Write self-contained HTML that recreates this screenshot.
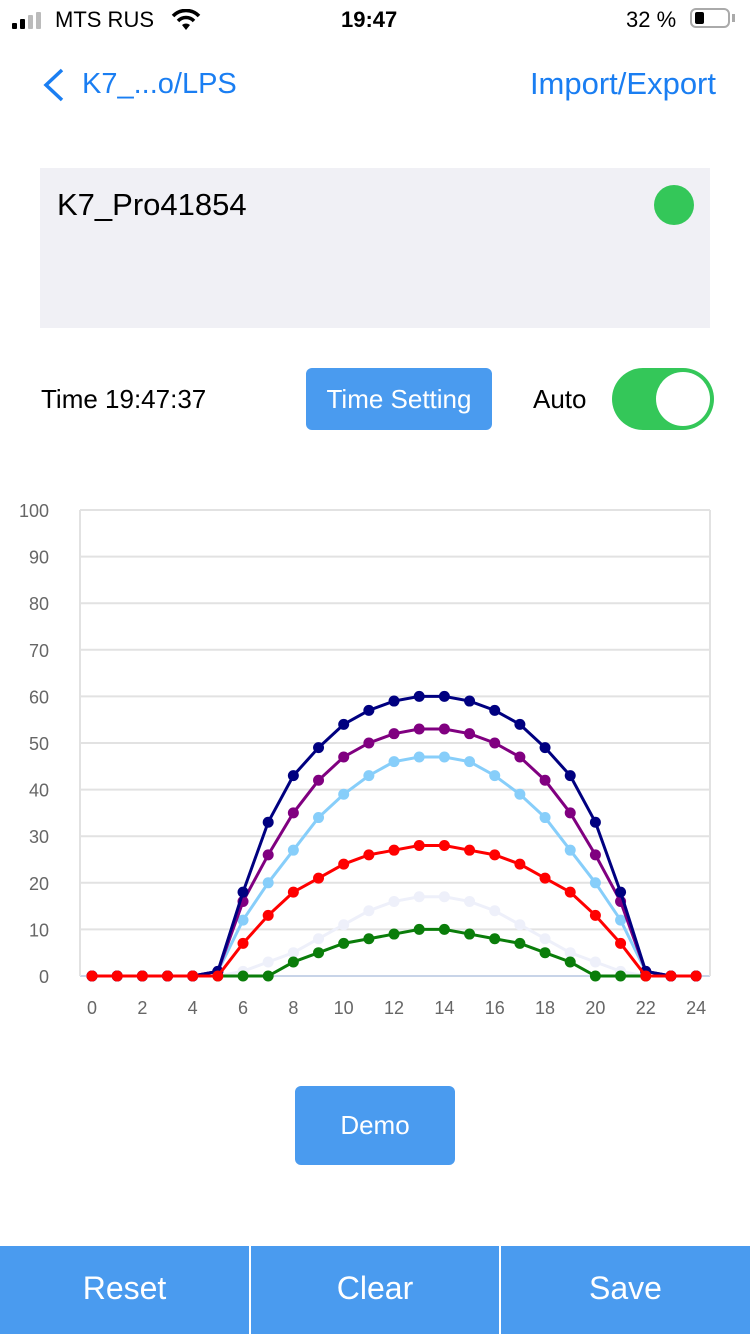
<!DOCTYPE html>
<html><head><meta charset="utf-8"><style>
body{margin:0;width:750px;height:1334px;background:#fff;font-family:"Liberation Sans",sans-serif;position:relative;overflow:hidden}
.a{position:absolute}
.btn{background:#4a9bef;color:#fff;border-radius:6px;display:flex;align-items:center;justify-content:center}
</style></head><body>
<div class="a" style="left:12px;top:12px;width:40px;height:18px">
<div class="a" style="left:0;top:11px;width:5px;height:6px;background:#000;border-radius:1px"></div>
<div class="a" style="left:8px;top:7px;width:5px;height:10px;background:#000;border-radius:1px"></div>
<div class="a" style="left:16px;top:3px;width:5px;height:14px;background:#bbb;border-radius:1px"></div>
<div class="a" style="left:24px;top:0;width:5px;height:17px;background:#bbb;border-radius:1px"></div>
</div>
<div class="a" style="left:55px;top:7px;font-size:22px">MTS RUS</div>
<svg class="a" style="left:171px;top:9px" width="30" height="22" viewBox="0 0 30 22"><path d="M15 21 L19 16 A6 6 0 0 0 11 16Z" fill="#000"/><path d="M7 12 A11 11 0 0 1 23 12" stroke="#000" stroke-width="3.5" fill="none"/><path d="M2 7 A18 18 0 0 1 28 7" stroke="#000" stroke-width="3.5" fill="none"/></svg>
<div class="a" style="left:341px;top:7px;font-size:22px;font-weight:bold">19:47</div>
<div class="a" style="left:626px;top:7px;font-size:22px">32 %</div>
<div class="a" style="left:690px;top:8px;width:40px;height:20px;border:2px solid #aaa;border-radius:6px;box-sizing:border-box"><div class="a" style="left:3px;top:2px;width:9px;height:12px;background:#000;border-radius:2px"></div></div>
<div class="a" style="left:732px;top:14px;width:3px;height:8px;background:#aaa"></div>
<svg class="a" style="left:40px;top:68px" width="26" height="34"><path d="M22 2 L6 17 L22 32" stroke="#1a7ef2" stroke-width="3.5" fill="none"/></svg>
<div class="a" style="left:82px;top:68px;font-size:29px;color:#1a7ef2">K7_...o/LPS</div>
<div class="a" style="right:34px;top:66px;font-size:31px;color:#1a7ef2">Import/Export</div>
<div class="a" style="left:40px;top:168px;width:670px;height:160px;background:#f0f0f5"></div>
<div class="a" style="left:57px;top:187px;font-size:31px">K7_Pro41854</div>
<div class="a" style="left:654px;top:185px;width:40px;height:40px;border-radius:50%;background:#34c759"></div>
<div class="a" style="left:41px;top:384px;font-size:26px">Time 19:47:37</div>
<div class="a btn" style="left:306px;top:368px;width:186px;height:62px;font-size:26px">Time Setting</div>
<div class="a" style="left:533px;top:384px;font-size:26px">Auto</div>
<div class="a" style="left:612px;top:368px;width:102px;height:62px;border-radius:31px;background:#34c759"><div class="a" style="left:44px;top:4px;width:54px;height:54px;border-radius:50%;background:#fff"></div></div>
<svg class="a" style="left:0;top:490px" width="750" height="540" id="ch"></svg>
<div class="a btn" style="left:295px;top:1086px;width:160px;height:79px;font-size:26px">Demo</div>
<div class="a" style="left:0;top:1246px;width:750px;height:88px;background:#4a9bef"></div>
<div class="a" style="left:249px;top:1246px;width:2px;height:88px;background:#fff"></div>
<div class="a" style="left:499px;top:1246px;width:2px;height:88px;background:#fff"></div>
<div class="a" style="left:0;top:1270px;width:249px;text-align:center;color:#fff;font-size:32px">Reset</div>
<div class="a" style="left:251px;top:1270px;width:248px;text-align:center;color:#fff;font-size:32px">Clear</div>
<div class="a" style="left:501px;top:1270px;width:249px;text-align:center;color:#fff;font-size:32px">Save</div>
<script>
var s='',X=h=>92+h*25.17,Y=v=>486-v*4.66;
for(var i=0;i<=10;i++){var y=Y(i*10);s+='<line x1="80" x2="710" y1="'+y+'" y2="'+y+'" stroke="'+(i?'#e2e2e2':'#c8d4e8')+'" stroke-width="2"/>';s+='<text x="49" y="'+(y+7)+'" text-anchor="end" font-size="18" fill="#666" font-family="Liberation Sans">'+i*10+'</text>';}
s+='<line x1="80" x2="80" y1="'+Y(100)+'" y2="'+Y(0)+'" stroke="#e2e2e2" stroke-width="2"/>';
s+='<line x1="710" x2="710" y1="'+Y(100)+'" y2="'+Y(0)+'" stroke="#e2e2e2" stroke-width="2"/>';
for(var h=0;h<=24;h+=2)s+='<text x="'+X(h)+'" y="'+(Y(0)+38)+'" text-anchor="middle" font-size="18" fill="#666" font-family="Liberation Sans">'+h+'</text>';
var z=[0,0,0,0,0];
var ser=[
['#eef0fa',z.concat([0,1,3,5,8,11,14,16,17]).concat([17,16,14,11,8,5,3,1,0,0,0,0,0,0,0])],
['#0a7d0a',z.concat([0,0,0,3,5,7,8,9,10]).concat([10,9,8,7,5,3,0,0,0,0,0,0,0,0,0])],
['#87cefa',z.concat([1,12,20,27,34,39,43,46,47]).concat([47,46,43,39,34,27,20,12,1,0,0,0,0,0,0])],
['#800080',z.concat([1,16,26,35,42,47,50,52,53]).concat([53,52,50,47,42,35,26,16,1,0,0,0,0,0,0])],
['#000080',z.concat([1,18,33,43,49,54,57,59,60]).concat([60,59,57,54,49,43,33,18,1,0,0,0,0,0,0])],
['#ff0000',z.concat([0,7,13,18,21,24,26,27,28]).concat([28,27,26,24,21,18,13,7,0,0,0,0,0,0,0])]];
ser.forEach(function(q){var d=q[1].slice(0,25),p='';d.forEach((v,i)=>p+=(i?'L':'M')+X(i)+' '+Y(v));s+='<path d="'+p+'" stroke="'+q[0]+'" stroke-width="3" fill="none"/>';d.forEach((v,i)=>s+='<circle cx="'+X(i)+'" cy="'+Y(v)+'" r="5.5" fill="'+q[0]+'"/>');});
document.getElementById('ch').innerHTML=s;
</script>
</body></html>
